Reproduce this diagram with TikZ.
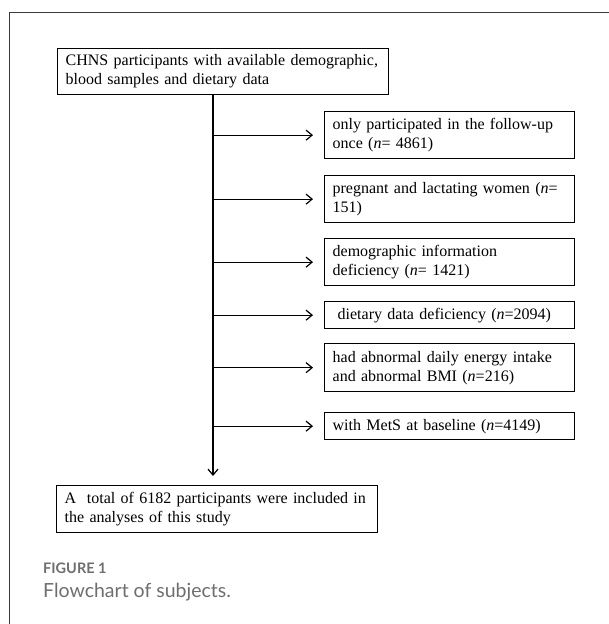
\documentclass[tikz,border=0pt]{standalone}
\usepackage{fontspec}
\setmainfont{Liberation Serif}
\newfontfamily\capfont{Lato}
\usetikzlibrary{arrows.meta}
\definecolor{framegray}{HTML}{3A3A3A}
\definecolor{capgray}{HTML}{6E6E6E}
\tikzset{
  flowbox/.style={draw=black, line width=1.3pt, anchor=north west, align=left,
    inner xsep=8pt, inner ysep=0pt, font=\fontsize{16}{19}\selectfont},
  flowline/.style={line width=1.2pt, draw=black},
  flowarrow/.style={flowline, -{Straight Barb[length=6pt,width=10pt,line width=1.2pt]}},
}
\begin{document}
\begin{tikzpicture}[x=1pt,y=-1pt]
\useasboundingbox (0,0) rectangle (609,624);
% outer frame
\draw[framegray, line width=1pt] (9,624) -- (9,12) -- (609,12);

\node[flowbox, text width=315pt, minimum height=46pt] (top) at (57,48)
  {CHNS participants with available demographic,\\blood samples and dietary data};

\node[flowbox, text width=234pt, minimum height=47pt] (b1) at (324,111)
  {only participated in the follow-up\\once (\textit{n}= 4861)};
\node[flowbox, text width=234pt, minimum height=47pt] (b2) at (324,175)
  {pregnant and lactating women (\textit{n}=\\151)};
\node[flowbox, text width=234pt, minimum height=47pt] (b3) at (324,238)
  {demographic information\\deficiency (\textit{n}= 1421)};
\node[flowbox, text width=234pt, minimum height=27pt] (b4) at (324,301)
  {\hspace{5pt}dietary data deficiency (\textit{n}=2094)};
\node[flowbox, text width=234pt, minimum height=48pt] (b5) at (324,343)
  {had abnormal daily energy intake\\and abnormal BMI (\textit{n}=216)};
\node[flowbox, text width=234pt, minimum height=27pt] (b6) at (324,412)
  {with MetS at baseline (\textit{n}=4149)};

\node[flowbox, text width=305pt, minimum height=47pt] (bottom) at (56,485)
  {A\ \ total of 6182 participants were included in\\the analyses of this study};

\coordinate (spine) at (213,300);
\draw[flowarrow, shorten >=9pt] (top.south -| spine) -- (bottom.north -| spine);
\foreach \b in {b1,b2,b3,b4,b5,b6}{
  \draw[flowarrow, shorten >=11pt] (spine |- \b.west) -- (\b.west);
}

\node[anchor=base west, inner sep=0pt, text=capgray, font=\capfont\bfseries\fontsize{14.5}{17}\selectfont] (figlabel) at (43,573) {FIGURE 1};
\node[anchor=base west, inner sep=0pt, text=capgray, font=\capfont\fontsize{19.5}{23}\selectfont] (figcaption) at (43,597) {Flowchart of subjects.};
\end{tikzpicture}
\end{document}
